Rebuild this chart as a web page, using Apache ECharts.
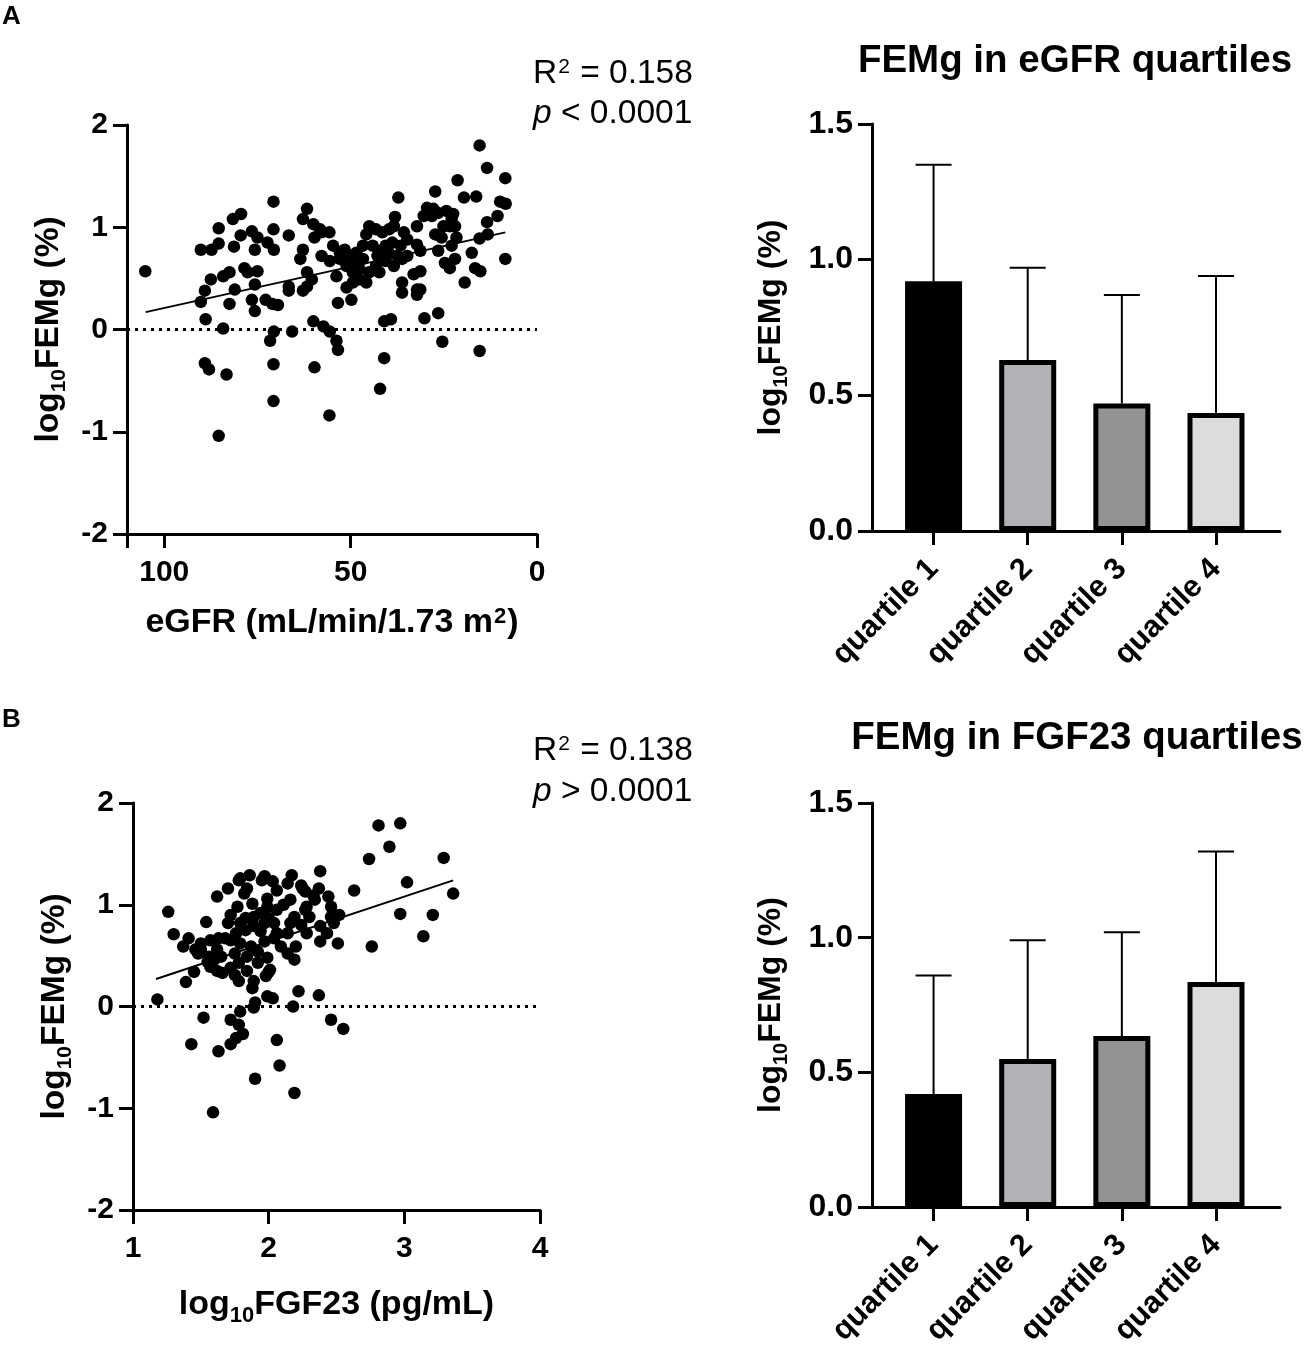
<!DOCTYPE html>
<html>
<head>
<meta charset="utf-8">
<script src="https://cdn.jsdelivr.net/npm/echarts@6/dist/echarts.min.js"></script>
<style>
  html, body { margin: 0; padding: 0; background: #fff; }
  #main { width: 1308px; height: 1349px; }
</style>
</head>
<body>
<div id="main"></div>
<script>
// data
// panel A: eGFR (mL/min/1.73 m2) vs log10 FEMg (%)
var eGFRPoints = [
  [105.1,0.57],[70.7,1.25],[85.4,0.99],[81.6,1.08],[79.4,1.13],[90.2,0.78],[87.3,0.78],[85.4,0.84],[81.3,0.81],
  [79.5,0.92],[76.5,0.96],[75.0,0.90],[75.7,0.78],[72.3,0.85],[70.7,0.98],[70.6,0.78],[66.6,0.92],
  [62.8,1.08],[61.7,1.18],[60.0,1.03],[57.8,0.95],[55.7,0.95],[54.7,0.82],[62.8,0.78],[63.5,0.69],[57.8,0.72],[55.6,0.67],[52.9,0.75],[59.7,0.90],
  [78.5,0.60],[75.0,0.57],[77.6,0.56],[84.2,0.52],[82.5,0.56],[87.5,0.49],[89.1,0.38],[81.1,0.39],[75.7,0.44],
  [61.7,0.56],[60.4,0.49],[61.7,0.42],[62.8,0.38],[66.6,0.38],[66.6,0.42],
  [90.2,0.27],[82.5,0.25],[76.5,0.29],[72.8,0.29],[71.0,0.25],[69.5,0.24],[75.7,0.18],[53.4,0.26],[88.9,0.10],
  [84.2,0.01],[70.6,-0.02],[65.7,-0.02],[60.0,0.08],[57.3,0.03],[55.6,-0.02],[53.8,-0.11],[53.4,-0.20],[71.6,-0.11],
  [89.1,-0.33],[88.0,-0.39],[83.3,-0.44],[70.7,-0.34],[59.7,-0.37],[70.7,-0.70],[55.7,-0.84],[85.4,-1.04],
  [15.4,1.80],[13.4,1.58],[8.5,1.48],[21.3,1.46],[37.2,1.29],[27.3,1.35],[19.6,1.29],[16.3,1.30],[9.9,1.25],[8.4,1.23],[38.1,1.10],
  [29.5,1.19],[27.8,1.18],[30.4,1.11],[28.2,1.11],[26.5,1.14],[24.3,1.16],[22.5,1.13],[22.9,1.08],[25.1,1.01],[27.3,0.93],[25.6,0.90],[23.4,1.01],[22.0,1.01],
  [10.6,1.11],[13.4,1.05],[13.2,0.93],[15.4,0.89],[8.5,0.69],[17.5,0.75],[16.6,0.60],[15.2,0.57],[19.4,0.46],
  [21.6,0.90],[22.9,0.82],[26.5,0.77],[24.7,0.65],[23.4,0.60],[22.0,0.69],
  [32.2,1.01],[32.2,0.83],[31.3,0.77],[33.1,0.54],[31.3,0.57],[32.2,0.39],[31.3,0.39],[32.2,0.34],[36.2,0.46],[36.2,0.36],
  [58.2,0.98],[53.8,0.52],[49.8,0.29],[51.1,0.41],[49.4,0.46],[47.6,0.49],[45.8,0.46],[51.6,0.78],[50.3,0.69],[48.5,0.65],[46.7,0.69],
  [45.0,1.01],[45.8,0.93],[43.2,0.98],[41.5,0.95],[39.7,0.98],[38.4,1.01],[35.7,0.95],[34.8,0.88],[44.1,0.82],[42.3,0.77],[40.6,0.82],[38.8,0.85],[36.6,0.82],
  [37.5,0.72],[38.4,0.62],[40.6,0.67],[43.2,0.62],[42.3,0.56],[45.0,0.56],[47.6,0.59],[49.4,0.56],[51.1,0.62],[52.9,0.69],[46.7,0.82],[48.5,0.75],[42.8,0.72],[39.7,0.75],[36.2,0.69],[34.8,0.72],
  [41.0,0.08],[39.2,0.10],[30.2,0.11],[26.5,0.16],[25.4,-0.12],[15.4,-0.21],[41.0,-0.28],[42.1,-0.58]
];
var eGFRFit = [[105, 0.17], [8.5, 0.95]];

// panel B: log10 FGF23 (pg/mL) vs log10 FEMg (%)
var fgfPoints = [
  [1.18,0.07],[1.26,0.93],[1.30,0.71],[1.37,0.59],[1.41,0.67],[1.39,0.24],[1.45,0.34],[1.46,0.56],[1.54,0.83],[1.52,-0.11],
  [1.43,-0.37],[1.50,0.56],[1.56,0.49],[1.57,0.39],[1.62,0.35],[1.63,0.67],[1.62,1.08],[1.70,1.16],[1.78,1.24],[1.86,1.29],
  [1.97,1.28],[2.03,1.23],[2.17,1.29],[2.24,1.19],[2.38,1.33],[2.63,1.14],[2.74,1.45],[2.81,1.78],[2.97,1.80],[2.89,1.57],
  [3.02,1.22],[3.29,1.46],[3.36,1.11],[2.97,0.91],[3.21,0.90],[3.14,0.69],[2.76,0.59],[2.51,0.62],[2.46,0.88],[2.44,1.08],
  [2.37,1.16],[2.27,1.13],[2.30,0.88],[2.38,0.64],[2.19,0.46],[2.22,0.15],[2.37,0.11],[2.18,0.00],[2.46,-0.13],[2.55,-0.22],
  [2.06,-0.33],[2.08,-0.58],[1.90,-0.71],[2.19,-0.85],[1.59,-1.04],[1.63,-0.44],[1.72,-0.37],[1.76,-0.31],[1.81,-0.27],[1.78,-0.18],
  [1.72,-0.13],[1.79,-0.05],[1.89,-0.01],[1.90,0.04],[1.99,0.10],[2.03,0.08],[1.88,0.18],[1.89,0.25],[2.00,0.34],[1.98,0.30],
  [1.78,0.25],[1.75,0.31],[1.66,0.33],[1.72,0.38],[1.55,0.44],[1.72,0.90],[1.77,0.98],[1.82,1.11],[1.88,1.01],[1.94,0.92],
  [1.99,1.06],[2.00,0.87],[2.04,0.82],[2.11,1.00],[2.16,1.05],[2.19,0.88],[2.24,0.80],[2.28,0.72],[2.20,0.59],[2.14,0.52],
  [2.09,0.59],[2.04,0.67],[1.97,0.64],[1.92,0.54],[1.87,0.59],[1.79,0.62],[1.75,0.52],[1.70,0.82],[1.68,0.67],[1.76,0.72],
  [1.83,0.75],[1.89,0.79],[1.94,0.74],[1.83,0.87],[1.89,0.88],[2.06,0.72],[2.14,0.72],[2.16,0.82],[2.27,0.95],[2.38,0.79],
  [2.43,0.72],[2.48,0.82],[2.52,0.90],[1.60,0.46],[1.62,0.56],[1.78,0.43],[1.84,0.49],[1.92,0.43],[1.99,0.48],[1.79,0.82],
  [1.97,0.82],[2.28,0.98],[2.34,1.05],[2.46,0.98],[2.06,0.95],[1.72,0.65],[1.50,0.62],[1.95,1.24],[1.79,1.26],[1.84,1.16],
  [1.99,0.98],[2.06,1.14],[2.14,1.21],[2.25,1.16],[2.33,1.09],[1.48,0.52],[2.01,0.36],[1.65,0.49],[1.84,0.35],[1.57,0.65]
];
var fgfFit = [[1.17, 0.27], [3.36, 1.24]];

// bar panels: mean with upper SD
var quartiles = ['quartile 1', 'quartile 2', 'quartile 3', 'quartile 4'];
var eGFRMean = [0.92, 0.63, 0.47, 0.435];
var eGFRUpper = [1.35, 0.97, 0.87, 0.94];
var fgfMean = [0.42, 0.55, 0.635, 0.835];
var fgfUpper = [0.86, 0.99, 1.02, 1.32];
var barColors = ['#000000', '#b2b2b6', '#939393', '#dcdcdc'];

var FONT = '"Liberation Sans", Arial, Helvetica, sans-serif';
var myChart = echarts.init(document.getElementById('main'));

var axisLine = { show: true, onZero: false, lineStyle: { color: '#000', width: 3 } };
var axisTick = { show: true, length: 14, lineStyle: { color: '#000', width: 3 } };
function tickLabel(size, margin) {
  return { color: '#000', fontSize: size, fontWeight: 'bold', fontFamily: FONT, margin: margin };
}
function nameRich(size) {
  var sub = Math.round(size * 0.64);
  return {
    b: { fontSize: size, fontWeight: 'bold', fontFamily: FONT, color: '#000', verticalAlign: 'top' },
    s: { fontSize: sub, fontWeight: 'bold', fontFamily: FONT, color: '#000', verticalAlign: 'top', padding: [Math.round(size * 0.5), 0, 0, 0] },
    p: { fontSize: sub, fontWeight: 'bold', fontFamily: FONT, color: '#000', verticalAlign: 'top', padding: [0, 1, 0, 1] }
  };
}
var femgName = '{b|log}{s|10}{b|FEMg (%)}';

function scatterYAxis(grid) {
  return {
    gridIndex: grid, type: 'value', min: -2, max: 2, interval: 1,
    axisLine: axisLine, axisTick: axisTick, splitLine: { show: false },
    axisLabel: tickLabel(30, 19),
    name: femgName, nameLocation: 'middle', nameGap: 57,
    nameTextStyle: { rich: nameRich(33.5) }
  };
}
function barYAxis(grid) {
  return {
    gridIndex: grid, type: 'value', min: 0, max: 1.5, interval: 0.5,
    axisLine: axisLine, axisTick: axisTick, splitLine: { show: false },
    axisLabel: Object.assign(tickLabel(32, 19), { formatter: function (v) { return v.toFixed(1); } }),
    name: femgName, nameLocation: 'middle', nameGap: 81,
    nameTextStyle: { rich: nameRich(32) }
  };
}
function barXAxis(grid) {
  return {
    gridIndex: grid, type: 'value', min: -0.654, max: 3.68,
    axisLine: axisLine, splitLine: { show: false },
    axisTick: Object.assign({ customValues: [0, 1, 2, 3] }, axisTick),
    axisLabel: Object.assign(tickLabel(30.5, 33), {
      rotate: 45, customValues: [0, 1, 2, 3],
      formatter: function (v) { return quartiles[Math.round(v)]; }
    })
  };
}

function errorBar(params, api) {
  var x = api.value(0);
  var base = api.coord([x, api.value(1)]);
  var top = api.coord([x, api.value(2)]);
  var st = { stroke: '#000', lineWidth: 2 };
  return {
    type: 'group',
    children: [
      { type: 'line', shape: { x1: base[0], y1: base[1], x2: top[0], y2: top[1] }, style: st },
      { type: 'line', shape: { x1: top[0] - 18, y1: top[1], x2: top[0] + 18, y2: top[1] }, style: st }
    ]
  };
}
function barData(means) {
  return means.map(function (m, i) {
    return { value: [i, m], itemStyle: { color: barColors[i] } };
  });
}
function errData(means, uppers) {
  return means.map(function (m, i) { return [i, m, uppers[i]]; });
}

var dotted = { color: '#000', width: 3, type: [3, 5] };
var fitLine = { color: '#000', width: 2 };
var dot = { color: '#000', opacity: 1 };

function statRich() {
  return {
    n: { fontSize: 33.5, fontFamily: FONT, fill: '#000', verticalAlign: 'top' },
    i: { fontSize: 33.5, fontFamily: FONT, fontStyle: 'italic', fill: '#000', verticalAlign: 'top' },
    u: { fontSize: 21, fontFamily: FONT, fill: '#000', verticalAlign: 'top', padding: [0, 1, 0, 1] }
  };
}
function panelText(x, y, text, size, align) {
  return { type: 'text', x: x, y: y, style: { text: text, fontSize: size, fontWeight: 'bold', fontFamily: FONT, fill: '#000', align: align, verticalAlign: 'middle' } };
}

var option = {
  backgroundColor: '#fff',
  animation: false,
  grid: [
    { left: 127, top: 125, width: 410, height: 409 },
    { left: 872, top: 124, width: 408, height: 407 },
    { left: 133, top: 803, width: 407, height: 407 },
    { left: 872, top: 803, width: 408, height: 408 }
  ],
  xAxis: [
    {
      gridIndex: 0, type: 'value', inverse: true, min: 0, max: 110,
      axisLine: axisLine, splitLine: { show: false },
      axisTick: Object.assign({ customValues: [0, 50, 100, 110] }, axisTick),
      axisLabel: Object.assign(tickLabel(30, 24), { customValues: [0, 50, 100] }),
      name: '{b|eGFR (mL/min/1.73 m}{p|2}{b|)}', nameLocation: 'middle', nameGap: 72,
      nameTextStyle: { rich: nameRich(34) }
    },
    barXAxis(1),
    {
      gridIndex: 2, type: 'value', min: 1, max: 4, interval: 1,
      axisLine: axisLine, axisTick: axisTick, splitLine: { show: false },
      axisLabel: tickLabel(30, 24),
      name: '{b|log}{s|10}{b|FGF23 (pg/mL)}', nameLocation: 'middle', nameGap: 78,
      nameTextStyle: { rich: nameRich(34) }
    },
    barXAxis(3)
  ],
  yAxis: [scatterYAxis(0), barYAxis(1), scatterYAxis(2), barYAxis(3)],
  series: [
    { type: 'line', xAxisIndex: 0, yAxisIndex: 0, data: [[110, 0], [0, 0]], symbol: 'none', lineStyle: dotted, z: 1 },
    { type: 'line', xAxisIndex: 0, yAxisIndex: 0, data: eGFRFit, symbol: 'none', lineStyle: fitLine, z: 3 },
    { type: 'scatter', xAxisIndex: 0, yAxisIndex: 0, data: eGFRPoints, symbolSize: 12.5, itemStyle: dot, z: 2 },

    { type: 'custom', xAxisIndex: 1, yAxisIndex: 1, data: errData(eGFRMean, eGFRUpper), renderItem: errorBar, z: 1 },
    { type: 'bar', xAxisIndex: 1, yAxisIndex: 1, data: barData(eGFRMean), barWidth: 57,
      itemStyle: { borderColor: '#000', borderWidth: 5 }, z: 2 },

    { type: 'line', xAxisIndex: 2, yAxisIndex: 2, data: [[1, 0], [4, 0]], symbol: 'none', lineStyle: dotted, z: 1 },
    { type: 'line', xAxisIndex: 2, yAxisIndex: 2, data: fgfFit, symbol: 'none', lineStyle: fitLine, z: 3 },
    { type: 'scatter', xAxisIndex: 2, yAxisIndex: 2, data: fgfPoints, symbolSize: 12.5, itemStyle: dot, z: 2 },

    { type: 'custom', xAxisIndex: 3, yAxisIndex: 3, data: errData(fgfMean, fgfUpper), renderItem: errorBar, z: 1 },
    { type: 'bar', xAxisIndex: 3, yAxisIndex: 3, data: barData(fgfMean), barWidth: 57,
      itemStyle: { borderColor: '#000', borderWidth: 5 }, z: 2 }
  ],
  graphic: [
    panelText(2, 17, 'A', 26, 'left'),
    panelText(2, 720, 'B', 26, 'left'),
    panelText(1075, 61, 'FEMg in eGFR quartiles', 38.5, 'center'),
    panelText(1077, 738, 'FEMg in FGF23 quartiles', 38.5, 'center'),
    { type: 'text', x: 533, y: 57, style: { text: '{n|R}{u|2}{n| = 0.158}', rich: statRich() } },
    { type: 'text', x: 533, y: 97, style: { text: '{i|p}{n| < 0.0001}', rich: statRich() } },
    { type: 'text', x: 533, y: 734, style: { text: '{n|R}{u|2}{n| = 0.138}', rich: statRich() } },
    { type: 'text', x: 533, y: 775, style: { text: '{i|p}{n| > 0.0001}', rich: statRich() } }
  ]
};

myChart.setOption(option);
</script>
</body>
</html>
